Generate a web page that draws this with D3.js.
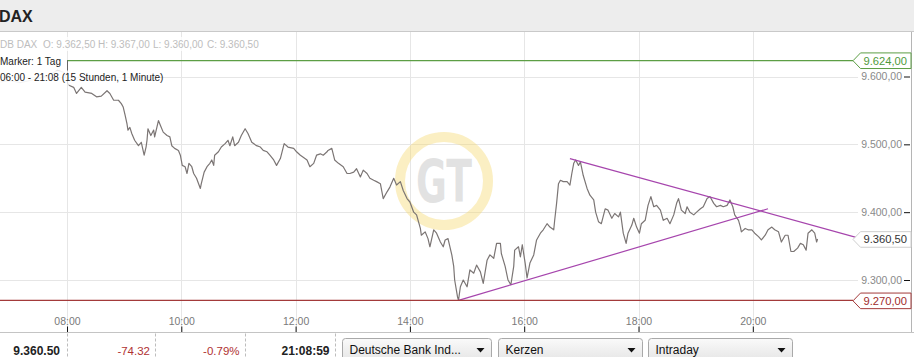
<!DOCTYPE html>
<html><head><meta charset="utf-8">
<script src="https://cdn.jsdelivr.net/npm/d3@7/dist/d3.min.js"></script>
<style>
html,body{margin:0;padding:0;background:#fff;overflow:hidden}
svg{display:block;font-family:"Liberation Sans",Arial,sans-serif}
</style></head><body>
<svg id="c" width="914" height="357"></svg>
<script>
// ---- data ----
const times = ["06:50","07:00","07:11","07:21","07:32","07:42","07:50","07:57",
"08:02","08:07","08:10","08:15","08:19","08:26","08:31","08:36","08:42","08:45","08:49","08:54","08:57","08:59",
"09:01","09:03","09:04","09:06","09:08","09:11","09:15","09:18","09:21","09:23","09:24","09:25","09:28","09:31","09:32","09:36","09:38","09:41","09:45","09:48","09:50","09:53","09:57","09:59",
"10:01","10:04","10:06","10:08","10:11","10:13","10:16","10:20","10:21","10:24","10:27","10:30","10:32","10:34","10:35","10:39","10:42","10:46","10:49","10:51","10:54","10:56",
"11:00","11:03","11:07","11:10","11:14","11:19","11:23","11:26","11:30","11:33","11:37","11:40","11:44","11:48","11:52","11:58",
"12:01","12:05","12:08","12:12","12:15","12:19","12:22","12:26","12:29","12:33","12:34","12:38","12:41","12:45","12:50","12:54","12:57",
"13:01","13:04","13:08","13:11","13:15","13:18","13:22","13:25","13:29","13:32","13:36","13:39","13:43","13:46","13:50","13:53","13:57",
"14:00","14:04","14:07","14:11","14:12","14:16","14:19","14:21","14:25","14:28","14:32","14:35","14:37","14:40","14:44","14:46","14:47","14:50","14:51","14:53","14:56",
"15:00","15:03","15:07","15:10","15:14","15:17","15:21","15:24","15:28","15:31","15:35","15:36","15:40","15:43","15:46","15:49","15:50","15:54","15:56","15:58",
"16:01","16:03","16:06","16:10","16:13","16:17","16:20","16:24","16:27","16:31","16:32","16:34","16:36","16:38","16:41","16:45","16:48","16:50","16:52","16:54","16:57","16:59",
"17:02","17:06","17:09","17:13","17:15","17:18","17:21","17:25","17:28","17:32","17:35","17:39","17:41","17:44","17:47","17:49","17:53","17:55","17:58",
"18:01","18:03","18:07","18:10","18:13","18:16","18:19","18:23","18:26","18:30","18:33","18:37","18:40","18:42","18:45","18:49","18:51","18:54","18:58",
"19:01","19:05","19:08","19:12","19:15","19:19","19:22","19:26","19:29","19:33","19:36","19:39","19:41","19:45","19:47","19:48","19:52","19:55","19:59",
"20:02","20:06","20:09","20:13","20:16","20:20","20:23","20:27","20:30","20:34","20:37","20:40","20:43","20:47","20:50","20:53","20:56","20:58",
"21:02","21:05","21:07","21:08"];
const prices = [9592,9594,9591,9594,9598,9603,9609,9606,
9587,9584,9575,9584,9577,9575,9570,9571,9579,9575,9565,9565,9560,9555,
9543,9530,9521,9525,9516,9506,9498,9503,9484,9496,9506,9523,9513,9521,9511,9535,9528,9518,9513,9511,9498,9494,9491,9484,
9469,9467,9457,9472,9467,9457,9450,9435,9442,9459,9467,9472,9477,9469,9484,9489,9496,9501,9506,9498,9511,9498,
9503,9513,9523,9516,9503,9498,9496,9491,9489,9484,9477,9469,9479,9501,9496,9494,
9489,9484,9481,9477,9467,9472,9484,9486,9484,9489,9491,9494,9477,9472,9467,9457,9457,
9459,9464,9452,9462,9457,9450,9447,9445,9442,9420,9430,9437,9450,9440,9445,9432,9420,
9415,9400,9396,9376,9366,9371,9361,9349,9374,9369,9356,9349,9359,9361,9337,9320,9300,9275,9270,9290,9300,
9290,9315,9310,9322,9312,9295,9329,9337,9332,9354,9354,9339,9320,9300,9293,9320,9344,9349,9334,9352,
9325,9303,9325,9337,9359,9369,9374,9383,9378,9374,9388,9413,9442,9447,9445,9445,9440,9457,9472,9477,9469,9474,
9454,9435,9425,9418,9400,9386,9383,9405,9403,9391,9398,9393,9400,9369,9354,9369,9381,9391,9378,
9369,9383,9388,9410,9423,9408,9410,9403,9388,9391,9383,9396,9413,9420,9403,9398,9408,9400,9396,
9400,9405,9408,9420,9423,9413,9408,9410,9408,9410,9418,9408,9396,9388,9378,9371,9376,9374,9374,
9369,9364,9359,9366,9374,9378,9374,9371,9356,9366,9366,9342,9342,9347,9354,9352,9344,9369,
9374,9369,9356,9360.5];

const yTicks = [9300, 9400, 9500, 9600];
const xTickHours = [8, 10, 12, 14, 16, 18, 20];
const xTickLabels = ["08:00","10:00","12:00","14:00","16:00","18:00","20:00"];

const supportLine = {t:["14:51","20:16"], v:[9270, 9405]};
const resistanceLine = {t:["16:48","21:56"], v:[9479, 9360]};

const markerHigh = 9624.00, markerLow = 9270.00, lastPrice = 9360.50;

const headerTitle = "DAX";
const ohlcLabels = ["DB DAX","O: 9.362,50","H: 9.367,00","L: 9.360,00","C: 9.360,50"];
const markerText = "Marker: 1 Tag";
const rangeText = "06:00 - 21:08 (15 Stunden, 1 Minute)";
const footerValues = ["9.360.50","-74.32","-0.79%","21:08:59"];
const dropdowns = ["Deutsche Bank Ind...","Kerzen","Intraday"];

// ---- drawing ----
const svg = d3.select("#c");
const loc = d3.formatLocale({decimal:",", thousands:".", grouping:[3], currency:["",""]});
const fmt = loc.format(",.2f");
const toH = s => { const [h,m] = s.split(":").map(Number); return h + m/60; };

const x = d3.scaleLinear().domain([8, 20]).range([67, 752.8]);
const y = d3.scaleLinear().domain([9300, 9600]).range([280, 76.5]);

const plotTop = 32, plotBottom = 332.5, plotRight = 911;

// header
svg.append("rect").attr("x",0).attr("y",0).attr("width",914).attr("height",plotTop).attr("fill","#ededed");
svg.append("line").attr("x1",0).attr("x2",914).attr("y1",plotTop-0.5).attr("y2",plotTop-0.5).attr("stroke","#c9c9c9");
svg.append("text").attr("x",-1).attr("y",21.5).attr("font-size",16).attr("font-weight","bold").attr("fill","#222").text(headerTitle);

// gridlines
const grid = svg.append("g");
grid.selectAll("line.h").data(yTicks).join("line")
  .attr("x1",0).attr("x2",858).attr("y1",d=>Math.round(y(d))+0.5).attr("y2",d=>Math.round(y(d))+0.5)
  .attr("stroke","#e6e6e6");
grid.selectAll("line.v").data(xTickHours).join("line")
  .attr("x1",d=>Math.round(x(d))+0.5).attr("x2",d=>Math.round(x(d))+0.5).attr("y1",plotTop).attr("y2",plotBottom)
  .attr("stroke","#e6e6e6");

// watermark
const wm = svg.append("g").attr("transform","translate(444,181)");
wm.append("circle").attr("r",44).attr("fill","none").attr("stroke","#f5d870").attr("stroke-opacity",0.42).attr("stroke-width",10);
wm.append("text").attr("x",0).attr("y",21).attr("text-anchor","middle").attr("font-size",58).attr("font-weight","bold")
  .attr("font-family","'DejaVu Sans',sans-serif").attr("fill","#d6d6d6").attr("fill-opacity",0.7)
  .attr("textLength",56).attr("lengthAdjust","spacingAndGlyphs").text("GT");

// series (pre-08:00 part drawn faint)
const pts = times.map((t,i)=>[toH(t), prices[i]]);
const line = d3.line().x(d=>x(d[0])).y(d=>y(d[1]));
const splitIdx = pts.findIndex(d=>d[0] >= 8);
svg.append("path").datum(pts.slice(0, splitIdx+1))
  .attr("d", line).attr("fill","none").attr("stroke","#d2d0d0").attr("stroke-width",1.1);
svg.append("path").datum(pts.slice(splitIdx))
  .attr("d", line)
  .attr("fill","none").attr("stroke","#7b7574").attr("stroke-width",1.2).attr("stroke-linejoin","round");

// trend lines
[supportLine, resistanceLine].forEach(l=>{
  svg.append("line")
    .attr("x1",x(toH(l.t[0]))).attr("y1",y(l.v[0]))
    .attr("x2",x(toH(l.t[1]))).attr("y2",y(l.v[1]))
    .attr("stroke","#a645ad").attr("stroke-width",1.2);
});

// marker lines
svg.append("line").attr("x1",67).attr("x2",853).attr("y1",y(markerHigh)+0.5).attr("y2",y(markerHigh)+0.5)
  .attr("stroke","#5c9e45").attr("stroke-width",1.2);
svg.append("line").attr("x1",0).attr("x2",853).attr("y1",y(markerLow)).attr("y2",y(markerLow))
  .attr("stroke","#a33a3a").attr("stroke-width",1.2);
svg.append("line").attr("x1",67.5).attr("x2",67.5).attr("y1",y(markerHigh)).attr("y2",84)
  .attr("stroke","#666").attr("stroke-width",1);

// right border
svg.append("line").attr("x1",plotRight+0.5).attr("x2",plotRight+0.5).attr("y1",plotTop).attr("y2",plotBottom).attr("stroke","#b5b5b5");

// y axis
const yAxis = svg.append("g").attr("transform",`translate(${plotRight-1},0)`)
  .call(d3.axisLeft(y).tickValues(yTicks).tickFormat(fmt).tickSize(6).tickPadding(2));
yAxis.select(".domain").remove();
yAxis.selectAll(".tick line").attr("stroke","#111");
yAxis.selectAll("text").attr("font-size",10.5).attr("fill","#8a8a8a")
  .attr("font-family","'Liberation Sans',Arial,sans-serif").attr("paint-order","stroke").attr("stroke","#fff").attr("stroke-width",3);

// tags
function tag(v, stroke, color){
  const yy = y(v) + 0.5;
  svg.append("path")
    .attr("d",`M853,${yy} L860.5,${yy-7.8} L${plotRight},${yy-7.8} L${plotRight},${yy+7.8} L860.5,${yy+7.8} Z`)
    .attr("fill","#fff").attr("stroke",stroke).attr("stroke-width",1);
  svg.append("text").attr("x",907).attr("y",yy+4).attr("text-anchor","end")
    .attr("font-size",11.2).attr("fill",color).text(fmt(v));
}
tag(markerHigh, "#5c9e45", "#4f9a3c");
tag(lastPrice, "#cfcfcf", "#333");
tag(markerLow, "#a33a3a", "#a02c2c");

// x axis
const xAxis = svg.append("g").attr("transform",`translate(0,${plotBottom})`)
  .call(d3.axisTop(x).tickValues(xTickHours).tickFormat((d,i)=>xTickLabels[i]).tickSize(6).tickPadding(2));
xAxis.select(".domain").remove();
xAxis.selectAll(".tick line").attr("stroke","#111");
xAxis.selectAll("text").attr("font-size",10.5).attr("fill","#7a7a7a").attr("font-family","'Liberation Sans',Arial,sans-serif");
svg.append("line").attr("x1",0).attr("x2",914).attr("y1",plotBottom).attr("y2",plotBottom).attr("stroke","#c4c4c4");

// overlay texts (semi-transparent backgrounds)
const ov = svg.append("g").attr("font-size",10);
ov.append("rect").attr("x",0).attr("y",37).attr("width",262).attr("height",14).attr("fill","#fff").attr("fill-opacity",0.8);
const ohlcX = [0, 43, 98, 153, 207];
ov.selectAll("text.o").data(ohlcLabels).join("text").attr("x",(d,i)=>ohlcX[i]).attr("y",47.5).attr("fill","#bdbdbd").text(d=>d);
ov.append("rect").attr("x",0).attr("y",55).attr("width",61).attr("height",13).attr("fill","#fff").attr("fill-opacity",0.75);
ov.append("text").attr("x",0).attr("y",64.5).attr("fill","#222").text(markerText);
ov.append("rect").attr("x",0).attr("y",70.5).attr("width",160).attr("height",13.5).attr("fill","#fff").attr("fill-opacity",0.75);
ov.append("text").attr("x",0).attr("y",80.5).attr("fill","#222").text(rangeText);

// footer
const foot = svg.append("g");
[67,155,245,335].forEach(xx=>{
  foot.append("line").attr("x1",xx+0.5).attr("x2",xx+0.5).attr("y1",plotBottom+1).attr("y2",357)
    .attr("stroke","#bdbdbd").attr("stroke-dasharray","3,2");
});
const footX = [60,150,239.5,329.5];
const footColor = ["#222","#b03232","#b03232","#222"];
const footWeight = ["bold","normal","normal","bold"];
footerValues.forEach((t,i)=>{
  foot.append("text").attr("x",footX[i]).attr("y",354.5).attr("text-anchor","end")
    .attr("font-size", footWeight[i]==="bold"?12:11.5).attr("font-weight",footWeight[i]).attr("fill",footColor[i]).text(t);
});
const defs = svg.append("defs");
const gr = defs.append("linearGradient").attr("id","btn").attr("x1",0).attr("x2",0).attr("y1",0).attr("y2",1);
gr.append("stop").attr("offset","0%").attr("stop-color","#fafafa");
gr.append("stop").attr("offset","100%").attr("stop-color","#e2e2e2");
const btnX = [342,498,648], btnW = [149,144,144];
dropdowns.forEach((t,i)=>{
  foot.append("rect").attr("x",btnX[i]+0.5).attr("y",338.5).attr("width",btnW[i]).attr("height",26).attr("rx",3)
    .attr("fill","url(#btn)").attr("stroke","#a9a9a9");
  foot.append("text").attr("x",btnX[i]+7.5).attr("y",354).attr("font-size",12).attr("fill","#111").text(t);
  const ax = btnX[i]+btnW[i]-10.5;
  foot.append("path").attr("d",`M${ax-4},348 L${ax+4},348 L${ax},352.5 Z`).attr("fill","#111");
});
</script>
</body></html>
